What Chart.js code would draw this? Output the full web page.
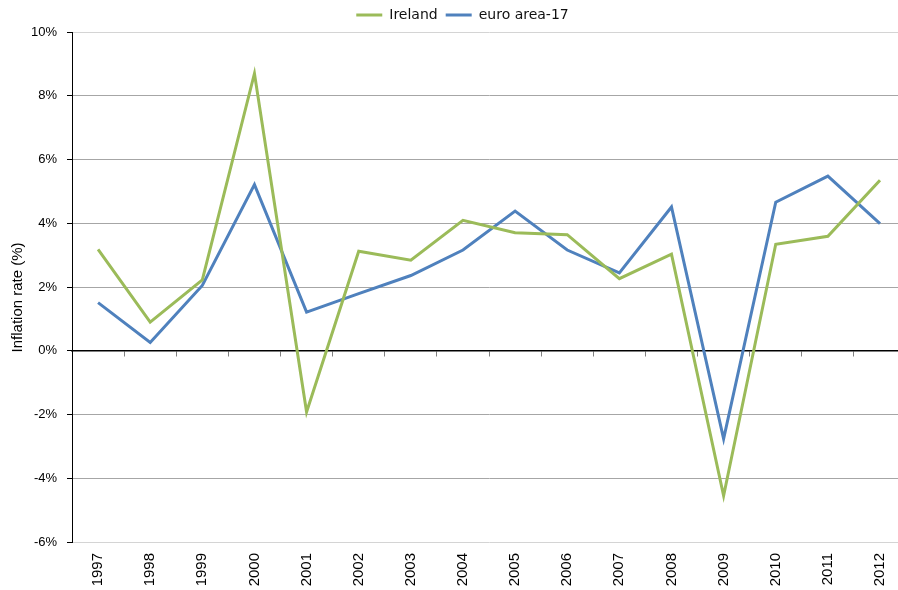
<!DOCTYPE html>
<html><head><meta charset="utf-8">
<script src="https://cdn.jsdelivr.net/npm/chart.js@4/dist/chart.umd.min.js"></script>
<style>
html,body{margin:0;padding:0;background:#fff;overflow:hidden}
#wrap{width:898px;height:590px;overflow:hidden;position:relative;background:#fff}
canvas{display:block}
</style></head>
<body><div id="wrap"><canvas id="c" width="909" height="590"></canvas></div>
<script>
const years = ['1997','1998','1999','2000','2001','2002','2003','2004','2005','2006','2007','2008','2009','2010','2011','2012'];
const ireland = [3.18, 0.90, 2.22, 8.70, -1.92, 3.12, 2.84, 4.09, 3.70, 3.64, 2.26, 3.03, -4.55, 3.34, 3.59, 5.35];
const euroArea17 = [1.51, 0.26, 2.05, 5.21, 1.21, 1.79, 2.36, 3.16, 4.38, 3.16, 2.44, 4.51, -2.76, 4.66, 5.48, 3.99];
const yMin = -6, yMax = 10, yStep = 2;
const seriesNames = ['Ireland', 'euro area-17'];
const yTitle = 'Inflation rate (%)';

const ctx = document.getElementById('c').getContext('2d');
new Chart(ctx, {
  type: 'line',
  data: {
    labels: years,
    datasets: [
      {label: seriesNames[0], data: ireland, borderColor: '#9BBB59', backgroundColor: '#9BBB59', borderWidth: 3, pointRadius: 0, tension: 0, xAxisID: 'x', yAxisID: 'y'},
      {label: seriesNames[1], data: euroArea17, borderColor: '#4F81BD', backgroundColor: '#4F81BD', borderWidth: 3, pointRadius: 0, tension: 0, xAxisID: 'x', yAxisID: 'y'}
    ]
  },
  options: {
    responsive: false,
    animation: false,
    devicePixelRatio: 1,
    layout: {padding: {left: 16, right: 0, top: 0, bottom: 0}},
    plugins: {
      tooltip: {enabled: false},
      legend: {
        position: 'top',
        maxHeight: 32,
        labels: {
          font: {family: 'DejaVu Sans', size: 14},
          color: '#111',
          boxWidth: 26,
          boxHeight: 3,
          padding: 8,
          generateLabels: (chart) => Chart.defaults.plugins.legend.labels.generateLabels(chart).map(l => Object.assign(l, {lineWidth: 0, fillStyle: l.strokeStyle}))
        }
      }
    },
    scales: {
      x: {
        type: 'category',
        position: 'bottom',
        offset: true,
        grid: {display: false, drawTicks: false, offset: true},
        border: {display: false},
        ticks: {autoSkip: false, maxRotation: 90, minRotation: 90, padding: 11, font: {family: 'Liberation Sans', size: 15}, color: '#000'},
        afterFit(s) { s.height = 48; }
      },
      x0: {
        type: 'category',
        position: {y: 0},
        offset: true,
        grid: {display: true, drawOnChartArea: false, drawTicks: true, tickLength: 5, offset: true, color: '#808080', tickColor: '#808080'},
        border: {display: true, color: '#000', width: 1.5},
        ticks: {display: false},
        afterFit(s) { s.height = 0; }
      },
      y: {
        min: yMin, max: yMax,
        ticks: {stepSize: yStep, callback: v => v + '%', font: {family: 'Liberation Sans', size: 13}, color: '#000', padding: 10},
        grid: {
          color: c => (c.tick && (c.tick.value === yMax || c.tick.value === yMin)) ? '#d4d4d4' : (c.tick && c.tick.value === 0 ? '#000' : '#a6a6a6'),
          tickLength: 5, tickColor: '#000', lineWidth: 1
        },
        border: {display: true, color: '#000', width: 1},
        title: {display: true, text: yTitle + '     ', font: {family: 'Liberation Sans', size: 15}, color: '#000', padding: {top: -7, bottom: 0}},
        afterFit(s) { s.width = 56; }
      }
    }
  }
});
</script>
</body></html>
